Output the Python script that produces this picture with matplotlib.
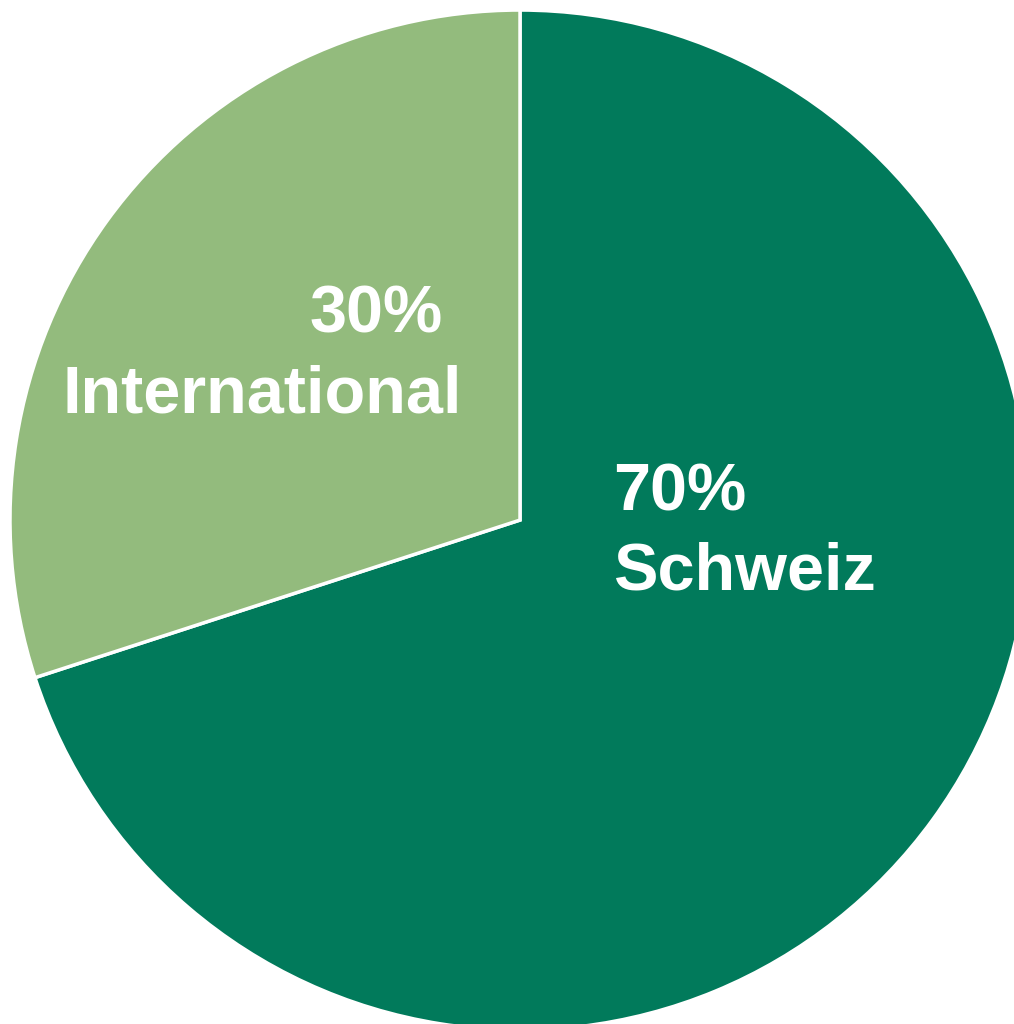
import matplotlib.pyplot as plt

labels = ["Schweiz", "International"]
shares = [70, 30]
colors = ["#017A5B", "#93BB7D"]

fig = plt.figure(figsize=(10.14, 10.24), dpi=100)
ax = fig.add_axes([0, 0, 1, 1])

ax.pie(
    shares,
    colors=colors,
    startangle=90,
    counterclock=False,
    radius=1.0,
    wedgeprops=dict(edgecolor="white", linewidth=2.5),
)

ax.set_xlim(-1.0196, 0.9686)
ax.set_ylim(-0.988, 1.0196)
ax.set_aspect("equal")
ax.axis("off")

font = dict(family="Liberation Sans", weight="bold", size=48, color="white")

ax.text(-0.151, 0.367, f"{shares[1]}%", ha="right", va="baseline", **font)
ax.text(-0.114, 0.210, labels[1], ha="right", va="baseline", **font)
ax.text(0.182, 0.0196, f"{shares[0]}%", ha="left", va="baseline", **font)
ax.text(0.182, -0.137, labels[0], ha="left", va="baseline", **font)

fig.savefig("out.png", dpi=100)
